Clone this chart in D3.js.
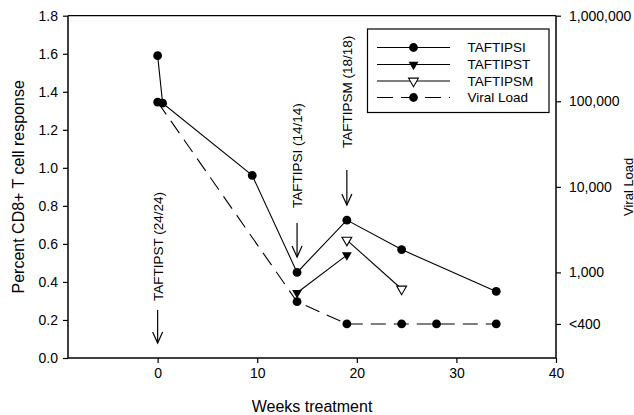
<!DOCTYPE html>
<html>
<head>
<meta charset="utf-8">
<script src="https://cdn.jsdelivr.net/npm/d3@7"></script>
<style>
  html, body { margin: 0; padding: 0; background: #fff; }
  svg { display: block; font-family: "Liberation Sans", Arial, sans-serif; }
</style>
</head>
<body>
<svg id="chart" width="634" height="415"></svg>
<script>
// ---- data ----
const taftipsiWeeks = [0, 0.5, 9.5, 14, 19, 24.5, 34];
const taftipsiValues = [1.59, 1.34, 0.96, 0.45, 0.725, 0.57, 0.35];

const taftipstWeeks = [14, 19];
const taftipstValues = [0.343, 0.541];

const taftipsmWeeks = [19, 24.5];
const taftipsmValues = [0.62, 0.363];

const viralWeeks = [0, 14, 19, 24.5, 28, 34];
const viralValues = [98000, 455, 250, 250, 250, 250];

const xTicks = [0, 10, 20, 30, 40];
const yTicks = [0, 0.2, 0.4, 0.6, 0.8, 1.0, 1.2, 1.4, 1.6, 1.8];
const rightTickValues = [1000000, 100000, 10000, 1000, 250];
const rightTickLabels = ["1,000,000", "100,000", "10,000", "1,000", "<400"];

const annotWeeks = [0, 14, 19];
const annotLabels = ["TAFTIPST (24/24)", "TAFTIPSI (14/14)", "TAFTIPSM (18/18)"];
const annotTextEnd = [0.30, 0.789, 1.104];
const annotArrowTop = [0.252, 0.71, 0.988];
const annotArrowTip = [0.079, 0.531, 0.804];

const legendLabels = ["TAFTIPSI", "TAFTIPST", "TAFTIPSM", "Viral Load"];

// ---- layout ----
const svg = d3.select("#chart");
const pLeft = 68, pRight = 556, pTop = 15.7, pBottom = 358;

const x = d3.scaleLinear().domain([-9, 40]).range([pLeft, pRight]);
const y = d3.scaleLinear().domain([0, 1.8]).range([pBottom, pTop]);
const yR = d3.scaleLog().domain([100, 1000000]).range([pBottom, pTop]);

// frame top line
svg.append("line").attr("x1", pLeft).attr("x2", pRight).attr("y1", pTop).attr("y2", pTop)
  .attr("stroke", "#000").attr("stroke-width", 1.2);

// axes
const fs = "14px";
const gx = svg.append("g").attr("transform", `translate(0,${pBottom})`)
  .call(d3.axisBottom(x).tickValues(xTicks).tickSize(5).tickSizeOuter(0).tickPadding(5));
const gy = svg.append("g").attr("transform", `translate(${pLeft},0)`)
  .call(d3.axisLeft(y).tickValues(yTicks).tickFormat(d3.format(".1f")).tickSize(5).tickSizeOuter(0).tickPadding(5));
const gr = svg.append("g").attr("transform", `translate(${pRight},0)`)
  .call(d3.axisRight(yR).tickValues(rightTickValues)
    .tickFormat((d, i) => rightTickLabels[i]).tickSize(5).tickSizeOuter(0).tickPadding(8));

[gx, gy, gr].forEach(g => {
  g.select(".domain").attr("stroke", "#000").attr("stroke-width", 1.5);
  g.selectAll(".tick line").attr("stroke", "#000").attr("stroke-width", 1.2);
  g.selectAll(".tick text").attr("fill", "#000").style("font-size", fs)
    .style("font-family", "'Liberation Sans', Arial, sans-serif");
});
gx.select(".domain").attr("d", `M${pLeft},0H${pRight}`);
gy.select(".domain").attr("d", `M0,${pBottom}V${pTop}`);
gr.select(".domain").attr("d", `M0,${pBottom}V${pTop}`);

// axis titles
svg.append("text").attr("transform", `translate(${(pLeft + pRight) / 2},412)`)
  .attr("text-anchor", "middle").style("font-size", "16px").text("Weeks treatment");
svg.append("text").attr("transform", `translate(24,${(pTop + pBottom) / 2}) rotate(-90)`)
  .attr("text-anchor", "middle").style("font-size", "16px").text("Percent CD8+ T cell response");
svg.append("text").attr("transform", `translate(632.5,${(pTop + pBottom) / 2}) rotate(-90)`)
  .attr("text-anchor", "middle").style("font-size", "13px").text("Viral Load");

// ---- series ----
const lineGen = d3.line();
function pts(ws, vs, sc) { return ws.map((w, i) => [x(w), sc(vs[i])]); }

const siPts = pts(taftipsiWeeks, taftipsiValues, y);
const stPts = pts(taftipstWeeks, taftipstValues, y);
const smPts = pts(taftipsmWeeks, taftipsmValues, y);
const vlPts = pts(viralWeeks, viralValues, yR);

svg.append("path").attr("d", lineGen(vlPts)).attr("fill", "none").attr("stroke", "#000")
  .attr("stroke-width", 1.1).attr("stroke-dasharray", "15,8");
svg.append("path").attr("d", lineGen(siPts)).attr("fill", "none").attr("stroke", "#000").attr("stroke-width", 1.1);
svg.append("path").attr("d", lineGen(stPts)).attr("fill", "none").attr("stroke", "#000").attr("stroke-width", 1.1);
svg.append("path").attr("d", lineGen(smPts)).attr("fill", "none").attr("stroke", "#000").attr("stroke-width", 1.1);

const tri = d3.symbol(d3.symbolTriangle, 42)();

function circles(p) {
  svg.append("g").selectAll("circle").data(p).join("circle")
    .attr("cx", d => d[0]).attr("cy", d => d[1]).attr("r", 4.4).attr("fill", "#000");
}
circles(vlPts);
circles(siPts);
svg.append("g").selectAll("path").data(stPts).join("path")
  .attr("d", tri).attr("transform", d => `translate(${d[0]},${d[1]}) rotate(180)`).attr("fill", "#000");
svg.append("g").selectAll("path").data(smPts).join("path")
  .attr("d", tri).attr("transform", d => `translate(${d[0]},${d[1]}) rotate(180)`)
  .attr("fill", "#fff").attr("stroke", "#000").attr("stroke-width", 1.1);

// ---- annotations ----
annotWeeks.forEach((w, i) => {
  const ax = x(w);
  const tipY = y(annotArrowTip[i]);
  svg.append("line").attr("x1", ax).attr("x2", ax).attr("y1", y(annotArrowTop[i])).attr("y2", tipY)
    .attr("stroke", "#000").attr("stroke-width", 1.2);
  svg.append("path").attr("d", `M${ax - 5},${tipY - 11}L${ax},${tipY}L${ax + 5},${tipY - 11}`)
    .attr("fill", "none").attr("stroke", "#000").attr("stroke-width", 1.2);
  svg.append("text").attr("transform", `translate(${ax},${y(annotTextEnd[i])}) rotate(-90)`)
    .attr("text-anchor", "start").attr("dy", "0.36em").style("font-size", "13.5px").text(annotLabels[i]);
});

// ---- legend ----
const lg = svg.append("g");
lg.append("rect").attr("x", 367.5).attr("y", 29).attr("width", 181.5).attr("height", 83.5)
  .attr("fill", "#fff").attr("stroke", "#000").attr("stroke-width", 1.2);
const rowY = [47.5, 64.5, 81, 97.5];
legendLabels.forEach((lab, i) => {
  const yy = rowY[i];
  lg.append("line").attr("x1", 377).attr("x2", 450).attr("y1", yy).attr("y2", yy)
    .attr("stroke", "#000").attr("stroke-width", 1.1)
    .attr("stroke-dasharray", i === 3 ? "16,8" : null);
  if (i === 0 || i === 3) {
    lg.append("circle").attr("cx", 413.5).attr("cy", yy).attr("r", 4.4).attr("fill", "#000");
  } else {
    lg.append("path").attr("d", tri).attr("transform", `translate(413.5,${yy}) rotate(180)`)
      .attr("fill", i === 1 ? "#000" : "#fff").attr("stroke", "#000").attr("stroke-width", i === 1 ? 0 : 1.1);
  }
  lg.append("text").attr("x", 467.5).attr("y", yy).attr("dy", "0.36em")
    .style("font-size", "13.5px").text(lab);
});
</script>
</body>
</html>
